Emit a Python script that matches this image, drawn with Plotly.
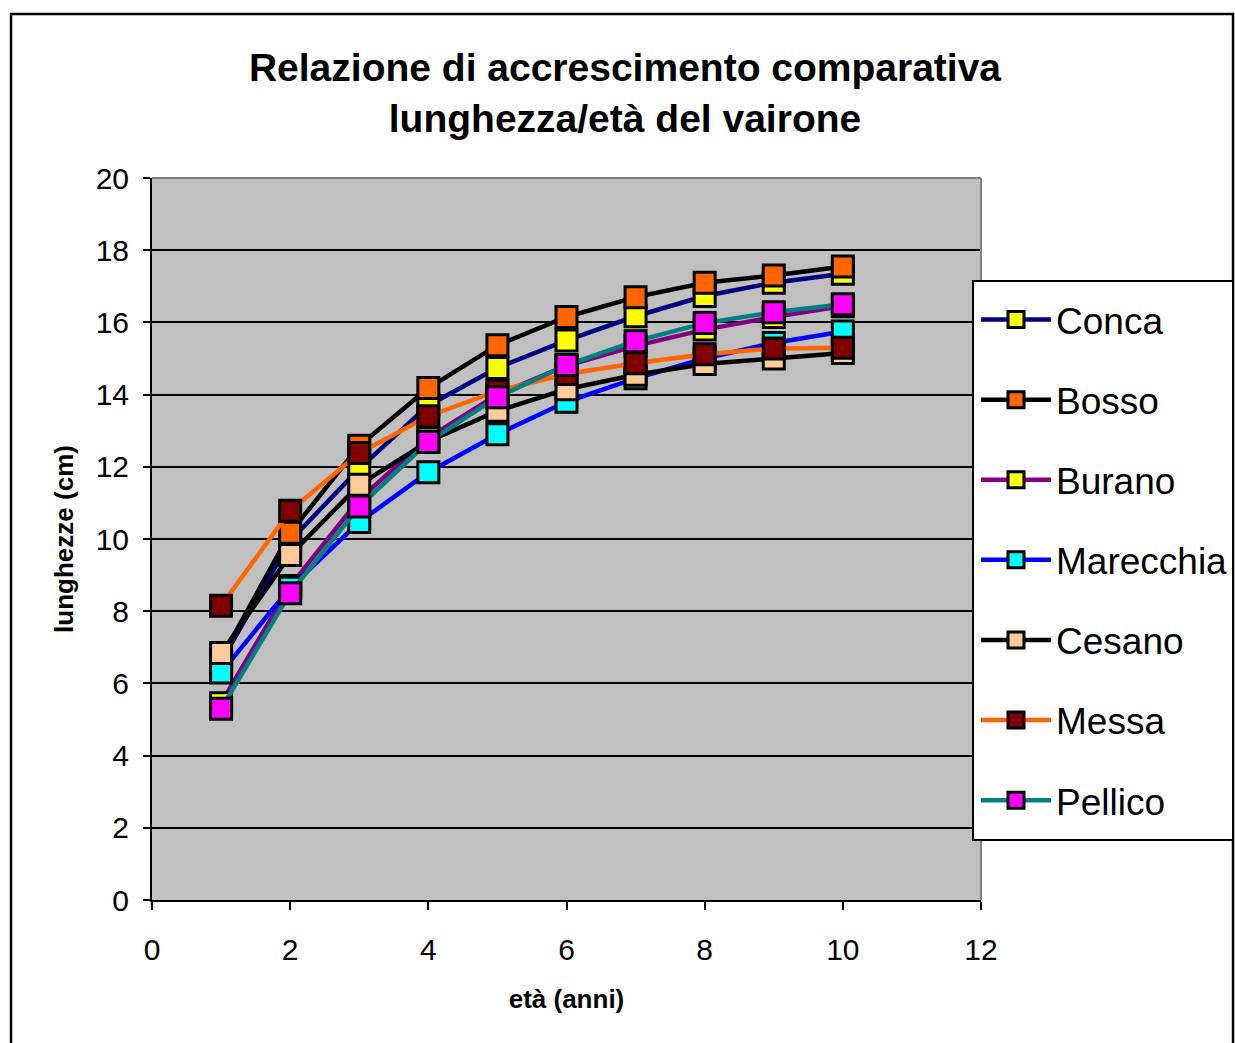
import plotly.graph_objects as go

# età (anni)
eta = [1, 2, 3, 4, 5, 6, 7, 8, 9, 10]

# lunghezze (cm) per località
conca = [6.6, 9.95, 11.95, 13.7, 14.74, 15.5, 16.17, 16.73, 17.1, 17.35]
bosso = [6.7, 10.17, 12.58, 14.18, 15.37, 16.15, 16.7, 17.1, 17.3, 17.55]
burano = [5.45, 8.7, 11.1, 12.8, 14.0, 14.8, 15.35, 15.8, 16.15, 16.45]
marecchia = [6.3, 8.65, 10.47, 11.85, 12.9, 13.8, 14.45, 15.0, 15.43, 15.75]
cesano = [6.84, 9.56, 11.5, 12.7, 13.55, 14.15, 14.55, 14.85, 15.0, 15.15]
messa = [8.15, 10.78, 12.38, 13.4, 14.1, 14.57, 14.87, 15.12, 15.28, 15.3]
pellico = [5.3, 8.5, 10.9, 12.69, 13.93, 14.82, 15.48, 15.98, 16.28, 16.5]

FONT = "Liberation Sans, Arial, sans-serif"

series = [
    ("Conca", conca, "#000080", "#FFFF00"),
    ("Bosso", bosso, "#000000", "#FF6600"),
    ("Burano", burano, "#800080", "#FFFF00"),
    ("Marecchia", marecchia, "#0000FF", "#00FFFF"),
    ("Cesano", cesano, "#000000", "#FFCC99"),
    ("Messa", messa, "#FF6600", "#800000"),
    ("Pellico", pellico, "#008080", "#FF00FF"),
]

fig = go.Figure()
for name, vals, line_col, fill_col in series:
    fig.add_trace(go.Scatter(
        x=eta, y=vals, name=name, mode="lines+markers",
        legendgroup=name,
        line=dict(color=line_col, width=4.5),
        marker=dict(symbol="square", size=21, color=fill_col,
                    line=dict(color="#000000", width=3)),
    ))

# page body margin is removed below, so page pixels == figure pixels.
# the figure is a bit wider than the window so the legend is never squeezed
W, H = 1270, 1043
# plot area: x 152..981, y 178..900
L, R, T, B = 152, 981, 178, 900
pw, ph = R - L, B - T

def px(x):
    return (x - L) / pw

def py(y):
    return (B - y) / ph

fig.update_layout(
    width=W, height=H,
    margin=dict(l=L, r=W - R, t=T, b=H - B),
    paper_bgcolor="white",
    plot_bgcolor="#C0C0C0",
    font=dict(family=FONT, color="black"),
    title=dict(
        text="<b>Relazione di accrescimento comparativa<br>lunghezza/età del vairone</b>",
        font=dict(size=39, family=FONT),
        x=625 / W, xanchor="center", y=1 - 81 / H, yanchor="middle",
    ),
    legend=dict(
        x=px(976), y=py(289), xanchor="left", yanchor="top",
        bgcolor="rgba(0,0,0,0)", borderwidth=0,
        font=dict(size=37, family=FONT),
        tracegroupgap=29,
        itemwidth=70,
    ),
    showlegend=True,
)

fig.update_xaxes(
    range=[0, 12], tickvals=[0, 2, 4, 6, 8, 10, 12],
    showgrid=False, zeroline=False,
    showline=True, linecolor="black", linewidth=2,
    ticks="outside", ticklen=8, tickwidth=2, tickcolor="black",
    tickfont=dict(size=30, family=FONT),
    ticklabelstandoff=14,
    title=dict(text="<b>età (anni)</b>", font=dict(size=26, family=FONT), standoff=25),
)
fig.update_yaxes(
    range=[0, 20], tickvals=[0, 2, 4, 6, 8, 10, 12, 14, 16, 18, 20],
    showgrid=True, gridcolor="black", gridwidth=1.5,
    zeroline=False,
    showline=True, linecolor="black", linewidth=2,
    ticks="outside", ticklen=7, tickwidth=2, tickcolor="black",
    tickfont=dict(size=30, family=FONT),
    ticklabelstandoff=8,
    title=dict(text="<b>lunghezze (cm)</b>", font=dict(size=26, family=FONT), standoff=15),
)

# grey border on top and right of the plot area
fig.add_shape(type="line", xref="paper", yref="paper", x0=0, x1=1, y0=1, y1=1,
              line=dict(color="#808080", width=2))
fig.add_shape(type="line", xref="paper", yref="paper", x0=1, x1=1, y0=0, y1=1,
              line=dict(color="#808080", width=2))

# outer chart frame
fig.add_shape(type="rect", xref="paper", yref="paper",
              x0=px(11), x1=px(1233), y0=py(1060), y1=py(14),
              line=dict(color="black", width=2.5), fillcolor="rgba(0,0,0,0)",
              layer="below")

# legend box
fig.add_shape(type="rect", xref="paper", yref="paper",
              x0=px(973), x1=px(1233), y0=py(840), y1=py(281),
              line=dict(color="black", width=2), fillcolor="white",
              layer="above")

# no body margin and no scrollbars, the window just clips the extra width
page_js = (
    "document.body.style.margin='0';"
    "document.body.style.overflow='hidden';"
    "document.documentElement.style.overflow='hidden';"
)

fig.write_html("out.html", post_script=page_js, config={"displayModeBar": False})
